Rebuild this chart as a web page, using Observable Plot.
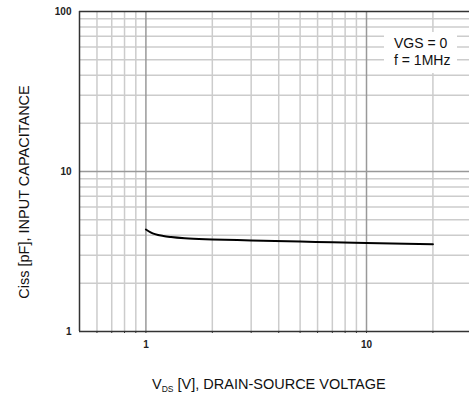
<!DOCTYPE html>
<html>
<head>
<meta charset="utf-8">
<script src="https://cdn.jsdelivr.net/npm/d3@7"></script>
<script src="https://cdn.jsdelivr.net/npm/@observablehq/plot@0.6"></script>
<style>
  html, body { margin: 0; padding: 0; background: #fff; }
  #wrap { position: relative; width: 469px; height: 401px; overflow: hidden; font-family: "Liberation Sans", Arial, sans-serif; }
  #legend { position: absolute; left: 384px; top: 32px; width: 73px; height: 41px; background: #fff;
            font-size: 14px; line-height: 17px; color: #111; padding-left: 10px; box-sizing: border-box; padding-top: 3px; }
</style>
</head>
<body>
<div id="wrap"></div>
<script>
// Data
const vds = [1, 1.05, 1.1, 1.2, 1.3, 1.5, 2, 3, 5, 7, 10, 15, 20];
const ciss = [4.34, 4.17, 4.06, 3.95, 3.89, 3.82, 3.76, 3.71, 3.65, 3.61, 3.57, 3.53, 3.51];
const xMajorTicks = [1, 10];
const xMinorTicks = [0.6, 0.7, 0.8, 0.9, 2, 3, 4, 5, 6, 7, 8, 9, 20];
const yMajorTicks = [1, 10, 100];
const yMinorTicks = [2, 3, 4, 5, 6, 7, 8, 9, 20, 30, 40, 50, 60, 70, 80, 90];
const legendLines = ["VGS = 0", "f = 1MHz"];

const data = vds.map((v, i) => ({v, c: ciss[i]}));

const chart = Plot.plot({
  width: 469,
  height: 401,
  marginLeft: 79,
  marginRight: 0,
  marginTop: 11,
  marginBottom: 70,
  style: {fontFamily: "Liberation Sans, Arial, sans-serif", background: "#fff"},
  x: {type: "log", domain: [0.5, 29.3]},
  y: {type: "log", domain: [1, 100]},
  marks: [
    Plot.ruleX(xMinorTicks, {stroke: "#cccccc", strokeWidth: 1.5}),
    Plot.ruleY(yMinorTicks, {stroke: "#cccccc", strokeWidth: 1.5}),
    Plot.ruleX([10], {stroke: "#999999", strokeWidth: 1.5}),
    Plot.ruleX([1], {stroke: "#999999", strokeWidth: 1.5}),
    Plot.ruleY([10], {stroke: "#999999", strokeWidth: 1.5}),
    Plot.ruleY([100], {stroke: "#333", strokeWidth: 1.5}),
    Plot.ruleY([1], {stroke: "#333", strokeWidth: 1.5}),
    Plot.ruleX([0.5], {stroke: "#333", strokeWidth: 1.5}),
    Plot.line(data, {x: "v", y: "c", stroke: "#000", strokeWidth: 2, curve: "monotone-x"}),
    Plot.axisX(xMajorTicks, {tickFormat: d => String(d), tickSize: 0, tickPadding: 9, fontSize: 10, fontWeight: "bold", fill: "#222", label: null}),
    Plot.axisX(xMajorTicks.concat(xMinorTicks), {tickFormat: () => "", tickSize: 2, stroke: "#333", label: null}),
    Plot.axisY(yMajorTicks, {tickFormat: d => String(d), tickSize: 0, tickPadding: 8, fontSize: 10, fontWeight: "bold", fill: "#222", label: null})
  ]
});

const svg = d3.select(chart);
svg.append("text")
  .attr("transform", "translate(29,192) rotate(-90)")
  .attr("text-anchor", "middle")
  .attr("font-size", 14.5)
  .attr("fill", "#111")
  .text("Ciss [pF], INPUT CAPACITANCE");

const xl = svg.append("text")
  .attr("x", 152)
  .attr("y", 389)
  .attr("text-anchor", "start")
  .attr("font-size", 14.5)
  .attr("fill", "#111");
xl.append("tspan").text("V");
xl.append("tspan").attr("font-size", 8.5).attr("dy", 3).text("DS");
xl.append("tspan").attr("dy", -3).text(" [V], DRAIN-SOURCE VOLTAGE");

const wrap = document.getElementById("wrap");
wrap.appendChild(chart);
const leg = document.createElement("div");
leg.id = "legend";
leg.innerHTML = legendLines.map(s => `<div>${s}</div>`).join("");
wrap.appendChild(leg);
</script>
</body>
</html>
